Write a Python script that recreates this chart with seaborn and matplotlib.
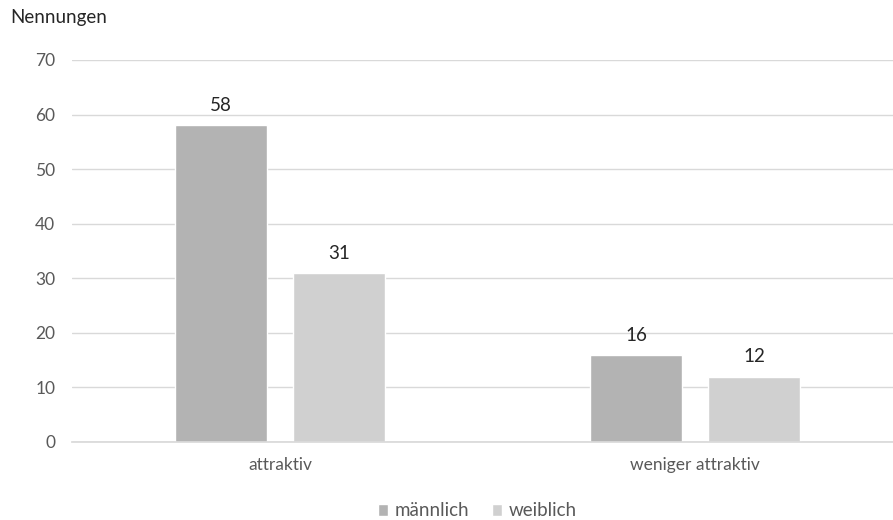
import matplotlib
matplotlib.use("Agg")
import matplotlib.pyplot as plt
import seaborn as sns
import pandas as pd

categories = ["attraktiv", "weniger attraktiv"]
series_names = ["männlich", "weiblich"]
maennlich = [58, 16]
weiblich = [31, 12]
y_ticks = [0, 10, 20, 30, 40, 50, 60, 70]
y_title = "Nennungen"
colors = ["#B3B3B3", "#D0D0D0"]

df = pd.DataFrame({
    "Kategorie": categories * 2,
    "Geschlecht": [series_names[0]] * 2 + [series_names[1]] * 2,
    "Wert": maennlich + weiblich,
})

sns.set_theme(style="white")
plt.rcParams["font.family"] = ["Lato", "DejaVu Sans"]

fig = plt.figure(figsize=(8.93, 5.2), dpi=100)
ax = fig.add_axes([72 / 893, (520 - 442) / 520, (893 - 72) / 893, (442 - 60) / 520])

sns.barplot(data=df, x="Kategorie", y="Wert", hue="Geschlecht",
            order=categories, hue_order=series_names, palette=colors,
            width=0.569, gap=0.22, ax=ax, legend=True, saturation=1)

ax.set_xlim(-0.501, 1.477)
ax.set_ylim(0, 70)
ax.set_yticks(y_ticks)
ax.set_yticklabels([str(t) for t in y_ticks])
ax.yaxis.grid(True, color="#D9D9D9", linewidth=1)
ax.set_axisbelow(True)
for s in ["left", "right", "top"]:
    ax.spines[s].set_visible(False)
ax.spines["bottom"].set_color("#D9D9D9")
ax.set_xlabel("")
ax.set_ylabel("")
ax.tick_params(axis="y", colors="#595959", labelsize=12.5, length=0, pad=12)
ax.tick_params(axis="x", colors="#595959", labelsize=12.5, length=0, pad=11)

for cont in ax.containers:
    ax.bar_label(cont, fmt="%d", padding=8, fontsize=13.5, color="#262626")

fig.text(10 / 893, 1 - 18 / 520, y_title, fontsize=13.5, color="#262626", va="center", ha="left")

h, l = ax.get_legend_handles_labels()
ax.legend_.remove()
fig.legend(h, l, loc="center", bbox_to_anchor=(477 / 893, 1 - 511 / 520), ncol=2, frameon=False,
           fontsize=13.5, handlelength=0.55, handleheight=0.55, handletextpad=0.35, columnspacing=1.2,
           labelcolor="#595959")

fig.savefig("out.png", dpi=100)
